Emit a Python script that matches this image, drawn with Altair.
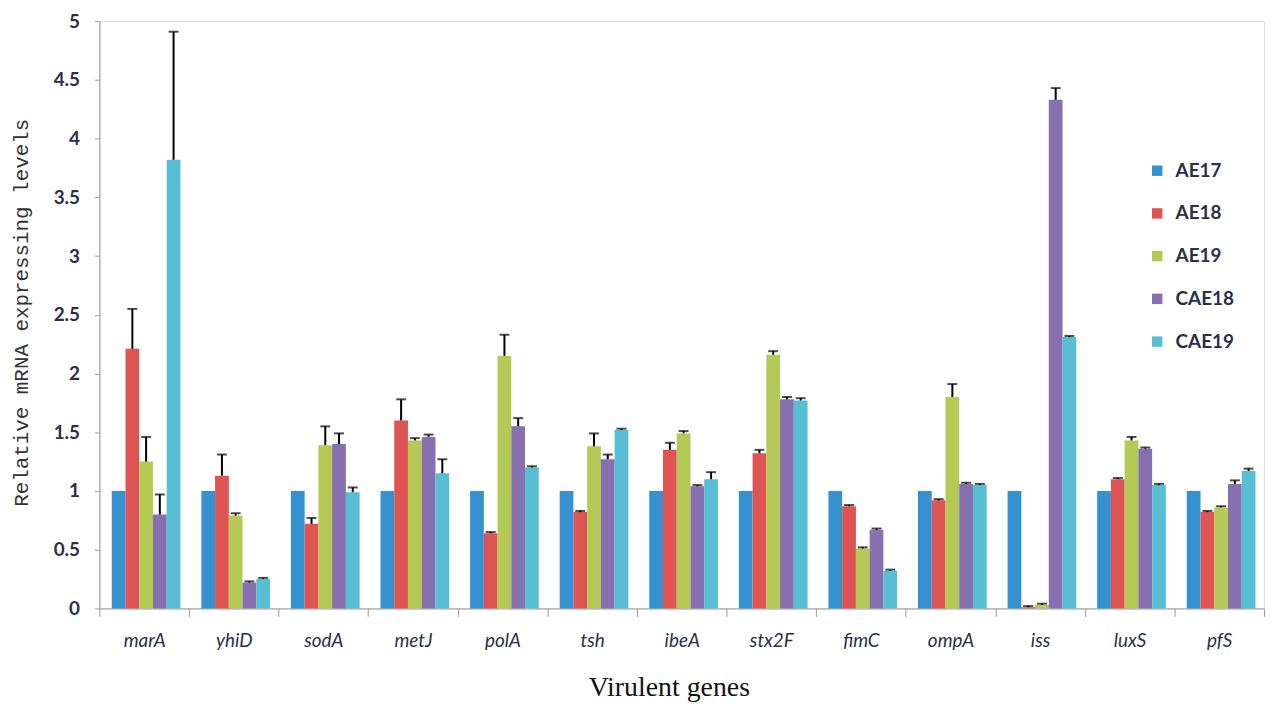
import altair as alt
import pandas as pd

genes = ["marA", "yhiD", "sodA", "metJ", "polA", "tsh", "ibeA", "stx2F",
         "fimC", "ompA", "iss", "luxS", "pfS"]
series = ["AE17", "AE18", "AE19", "CAE18", "CAE19"]
colors = ["#3591D0", "#DE5452", "#B5C956", "#8670B0", "#57BED4"]

# mean values per series (one per gene)
ae17 = [1, 1, 1, 1, 1, 1, 1, 1, 1, 1, 1, 1, 1]
ae18 = [2.21, 1.13, 0.72, 1.60, 0.64, 0.82, 1.35, 1.32, 0.87, 0.92, 0.01, 1.10, 0.82]
ae19 = [1.25, 0.79, 1.39, 1.43, 2.15, 1.38, 1.49, 2.16, 0.51, 1.80, 0.03, 1.43, 0.86]
cae18 = [0.80, 0.22, 1.40, 1.46, 1.55, 1.27, 1.04, 1.78, 0.67, 1.06, 4.33, 1.36, 1.06]
cae19 = [3.82, 0.25, 0.99, 1.15, 1.20, 1.52, 1.10, 1.77, 0.32, 1.05, 2.31, 1.05, 1.17]

# upper error (added to the mean)
ae17_err = [0, 0, 0, 0, 0, 0, 0, 0, 0, 0, 0, 0, 0]
ae18_err = [0.34, 0.18, 0.05, 0.18, 0.01, 0.01, 0.06, 0.03, 0.01, 0.01, 0.01, 0.01, 0.01]
ae19_err = [0.21, 0.02, 0.16, 0.02, 0.18, 0.11, 0.02, 0.03, 0.01, 0.11, 0.01, 0.03, 0.01]
cae18_err = [0.17, 0.01, 0.09, 0.02, 0.07, 0.04, 0.01, 0.02, 0.01, 0.01, 0.10, 0.01, 0.03]
cae19_err = [1.09, 0.01, 0.04, 0.12, 0.01, 0.01, 0.06, 0.02, 0.01, 0.01, 0.01, 0.01, 0.02]

vals = [ae17, ae18, ae19, cae18, cae19]
errs = [ae17_err, ae18_err, ae19_err, cae18_err, cae19_err]

rows = []
for s, v, e in zip(series, vals, errs):
    for g, vi, ei in zip(genes, v, e):
        rows.append({"gene": g, "series": s, "value": vi, "err": ei,
                     "upper": round(vi + ei, 3)})
df = pd.DataFrame(rows)

label_font = "Lato"

x_enc = alt.X("gene:N", sort=genes,
              scale=alt.Scale(paddingInner=0, paddingOuter=0),
              axis=alt.Axis(title="Virulent genes", labelAngle=0,
                            labelFont=label_font, labelFontSize=19,
                            labelFontStyle="italic", labelColor="#2b2f4a",
                            labelPadding=15, tickBand="extent", tickSize=8,
                            tickColor="#9a9a9a", domainColor="#9a9a9a",
                            titleFont="Liberation Serif", titleFontSize=28,
                            titleFontWeight="normal", titleColor="#111111",
                            titleX=573, titleY=80, titleAlign="center",
                            titleBaseline="middle"))
xoff = alt.XOffset("series:N", sort=series,
                   scale=alt.Scale(paddingInner=0, paddingOuter=0.76, align=0.59))

base = alt.Chart(df).encode(x=x_enc, xOffset=xoff)

bars = base.mark_bar().encode(
    y=alt.Y("value:Q", scale=alt.Scale(domain=[0, 5], nice=False),
            axis=alt.Axis(title="Relative mRNA expressing levels",
                          values=[0, 0.5, 1, 1.5, 2, 2.5, 3, 3.5, 4, 4.5, 5],
                          format="~g", grid=False, tickSize=5,
                          tickColor="#9a9a9a", domainColor="#9a9a9a",
                          labelFont=label_font, labelFontSize=19,
                          labelFontWeight="bold", labelColor="#2b2f4a",
                          labelPadding=15,
                          titleFont="Liberation Mono", titleFontSize=21,
                          titleFontWeight="normal", titleColor="#333333",
                          titleX=-78, titleY=293, titleAlign="center",
                          titleBaseline="middle", titleAngle=270)),
    color=alt.Color("series:N", sort=series,
                    scale=alt.Scale(domain=series, range=colors),
                    legend=alt.Legend(title=None, orient="none",
                                      legendX=1055, legendY=141,
                                      symbolType="square", symbolSize=110,
                                      symbolStrokeWidth=0,
                                      labelFont=label_font, labelFontSize=19,
                                      labelFontWeight="bold",
                                      labelColor="#2b2f4a",
                                      labelOffset=9, rowPadding=23)),
)

err_df_filter = alt.datum.err > 0

err_rule = base.transform_filter(err_df_filter).mark_rule(
    color="black", strokeWidth=2).encode(y="value:Q", y2="upper:Q")
err_cap = base.transform_filter(err_df_filter).mark_tick(
    color="black", thickness=2, size=10).encode(y="upper:Q")

chart = alt.layer(bars, err_rule, err_cap).properties(
    width=1172, height=591,
    autosize=alt.AutoSizeParams(type="none"),
    padding={"left": 92, "top": 11, "right": 4, "bottom": 98},
).configure_view(strokeWidth=0).configure(background="white")

chart.save("out.html", embed_options={"renderer": "svg", "actions": False})
